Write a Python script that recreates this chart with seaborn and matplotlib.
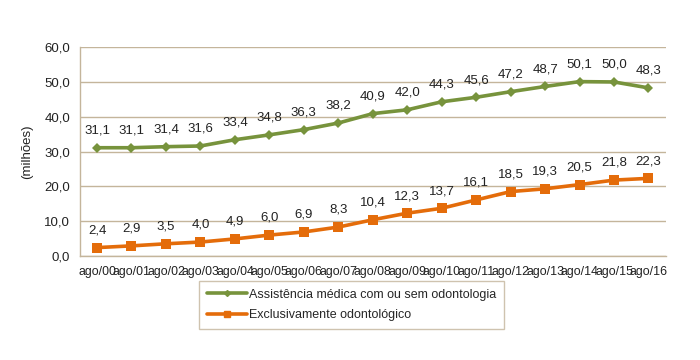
import matplotlib
matplotlib.use("Agg")
import matplotlib.pyplot as plt
import seaborn as sns
import pandas as pd
from matplotlib.lines import Line2D

periods = ["ago/00", "ago/01", "ago/02", "ago/03", "ago/04", "ago/05", "ago/06", "ago/07",
           "ago/08", "ago/09", "ago/10", "ago/11", "ago/12", "ago/13", "ago/14", "ago/15", "ago/16"]
medica = [31.1, 31.1, 31.4, 31.6, 33.4, 34.8, 36.3, 38.2, 40.9, 42.0, 44.3, 45.6, 47.2, 48.7, 50.1, 50.0, 48.3]
odonto = [2.4, 2.9, 3.5, 4.0, 4.9, 6.0, 6.9, 8.3, 10.4, 12.3, 13.7, 16.1, 18.5, 19.3, 20.5, 21.8, 22.3]
series_names = ["Assistência médica com ou sem odontologia", "Exclusivamente odontológico"]
y_ticks = [0, 10, 20, 30, 40, 50, 60]

sns.set_theme(style="white")
plt.rcParams["font.family"] = ["Liberation Sans", "DejaVu Sans"]

df = pd.concat([
    pd.DataFrame({"x": range(len(periods)), "v": medica, "s": series_names[0]}),
    pd.DataFrame({"x": range(len(periods)), "v": odonto, "s": series_names[1]}),
])

green = "#77933c"
orange = "#e46c0a"
tan = "#c4b59b"

fig = plt.figure(figsize=(7, 3.6), dpi=100)
ax = fig.add_axes([0.114, 0.289, 0.837, 0.580])

sns.lineplot(data=df, x="x", y="v", hue="s", style="s",
             palette={series_names[0]: green, series_names[1]: orange},
             markers={series_names[0]: "D", series_names[1]: "s"},
             dashes=False, markersize=6, linewidth=2.6, markeredgewidth=0,
             ax=ax, legend=False)
lines = ax.get_lines()
if len(lines) >= 2:
    lines[0].set_markersize(5)
    lines[1].set_markersize(7.5)

for vals in (medica, odonto):
    for i, v in enumerate(vals):
        ax.annotate(f"{v:.1f}".replace(".", ","), (i, v), xytext=(0, 8),
                    textcoords="offset points", ha="center", va="bottom",
                    fontsize=9.5, color="#222222")

ax.set_xlim(-0.5, len(periods) - 0.5)
ax.set_ylim(0, 60)
ax.set_yticks(y_ticks)
ax.set_yticklabels([f"{t:.1f}".replace(".", ",") for t in y_ticks], fontsize=9.5, color="#222222")
ax.set_xticks(range(len(periods)))
ax.set_xticklabels(periods, fontsize=8.9, color="#222222")
ax.set_xlabel("")
ax.set_ylabel("(milhões)", fontsize=9.5, color="#222222", labelpad=8)
ax.grid(axis="y", color=tan, linewidth=1)
ax.set_axisbelow(True)
for side in ("top", "right"):
    ax.spines[side].set_visible(False)
for side in ("left", "bottom"):
    ax.spines[side].set_color(tan)
    ax.spines[side].set_linewidth(1)
ax.tick_params(axis="both", which="major", length=4, color=tan, direction="out", pad=3)

handles = [Line2D([], [], color=green, linewidth=2.6, marker="D", markersize=3),
           Line2D([], [], color=orange, linewidth=2.6, marker="s", markersize=4)]
leg = fig.legend(handles, series_names, loc="center", bbox_to_anchor=(0.5025, 0.153),
                 frameon=True, fancybox=False, fontsize=9, handlelength=3.2,
                 borderpad=0.6, labelspacing=0.7, handletextpad=0.2, borderaxespad=0)
leg.get_frame().set_edgecolor(tan)
leg.get_frame().set_linewidth(1)

fig.savefig("out.png", dpi=100)
